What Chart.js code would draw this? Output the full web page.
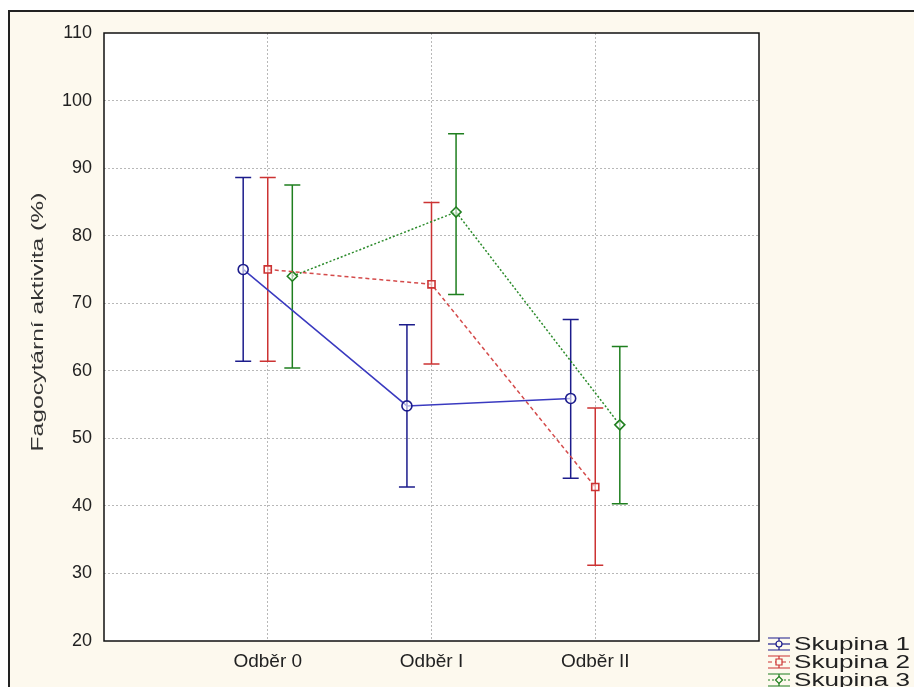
<!DOCTYPE html>
<html>
<head>
<meta charset="utf-8">
<script src="https://cdn.jsdelivr.net/npm/chart.js@4"></script>
<style>
	body { margin: 0; background: #ffffff; }
	#frame {
		position: absolute;
		left: 8px;
		top: 10px;
		width: 904px;
		height: 675px;
		background: #fdf9ee;
		border-top: 2px solid #222;
		border-left: 2px solid #222;
	}
	canvas { display: block; }
</style>
</head>
<body>
<div id="frame"><canvas id="chart" width="904" height="675"></canvas></div>
<script>
// categories and tick labels
const categories = ["Odběr 0", "Odběr I", "Odběr II"];
const groups = ["Skupina 1", "Skupina 2", "Skupina 3"];
const yTicks = [20, 30, 40, 50, 60, 70, 80, 90, 100, 110];
const yTitle = "Fagocytární aktivita (%)";

// means and error limits per group
const mean1 = [75.0, 54.8, 55.9];
const low1 = [61.4, 42.8, 44.1];
const high1 = [88.6, 66.8, 67.6];

const mean2 = [75.0, 72.8, 42.8];
const low2 = [61.4, 61.0, 31.2];
const high2 = [88.6, 84.9, 54.5];

const mean3 = [74.0, 83.5, 52.0];
const low3 = [60.4, 71.3, 40.3];
const high3 = [87.5, 95.1, 63.6];

// horizontal shift of each group around its category
const shift = [-0.15, 0, 0.15];

const colors = ["#1c1c8c", "#cc3333", "#1f7f1f"];
const lineColors = ["#3a3ac0", "#d44a4a", "#2a8a2a"];
const dashes = [[], [4, 3], [2, 2]];
const shapes = ["circle", "rect", "rectRot"];
const fontFamily = "'Liberation Sans', Arial, sans-serif";

function makeSet(idx, means, lows, highs) {
	return {
		label: groups[idx],
		data: means.map((v, i) => ({ x: i + 1 + shift[idx], y: v, lo: lows[i], hi: highs[i] })),
		borderColor: lineColors[idx],
		borderWidth: 1.5,
		borderDash: dashes[idx],
		pointStyle: shapes[idx],
		pointRadius: 5,
		pointBorderColor: colors[idx],
		pointBackgroundColor: "rgba(255,255,255,0.6)",
		pointBorderWidth: 1.6,
		showLine: true,
		fill: false,
		tension: 0,
	};
}

// error bars, drawn through the scales
const errorBars = {
	id: "errorBars",
	beforeDatasetsDraw(chart) {
		const ctx = chart.ctx;
		const xs = chart.scales.x;
		const ys = chart.scales.y;
		chart.data.datasets.forEach((ds, d) => {
			ctx.save();
			ctx.strokeStyle = colors[d];
			ctx.lineWidth = 1.5;
			ds.data.forEach((p) => {
				const x = xs.getPixelForValue(p.x);
				const y1 = ys.getPixelForValue(p.lo);
				const y2 = ys.getPixelForValue(p.hi);
				ctx.beginPath();
				ctx.moveTo(x, y1);
				ctx.lineTo(x, y2);
				ctx.moveTo(x - 8, y1);
				ctx.lineTo(x + 8, y1);
				ctx.moveTo(x - 8, y2);
				ctx.lineTo(x + 8, y2);
				ctx.stroke();
			});
			ctx.restore();
		});
	},
};

// white plot area, black frame around it, and the stretched y title
const plotFrame = {
	id: "plotFrame",
	beforeDraw(chart) {
		const a = chart.chartArea;
		chart.ctx.save();
		chart.ctx.fillStyle = "#ffffff";
		chart.ctx.fillRect(a.left, a.top, a.right - a.left, a.bottom - a.top);
		chart.ctx.restore();
	},
	afterDraw(chart) {
		const a = chart.chartArea;
		const ctx = chart.ctx;
		ctx.save();
		ctx.strokeStyle = "#111";
		ctx.lineWidth = 1.5;
		ctx.strokeRect(a.left, a.top, a.right - a.left, a.bottom - a.top);
		ctx.restore();

		ctx.save();
		ctx.translate(28, 310);
		ctx.rotate(-Math.PI / 2);
		ctx.scale(1.45, 1);
		ctx.font = "17px " + fontFamily;
		ctx.fillStyle = "#333";
		ctx.textAlign = "center";
		ctx.textBaseline = "middle";
		ctx.fillText(yTitle, 0, 0);
		ctx.restore();
	},
};

// legend in the lower right corner, with error bar icons
const sideLegend = {
	id: "sideLegend",
	afterDraw(chart) {
		const ctx = chart.ctx;
		const x0 = 758;
		ctx.save();
		chart.data.datasets.forEach((ds, d) => {
			const y = 632 + d * 18;
			const cx = x0 + 11;
			ctx.strokeStyle = colors[d];
			ctx.lineWidth = 1.2;
			ctx.setLineDash([]);
			ctx.beginPath();
			ctx.moveTo(x0, y - 6);
			ctx.lineTo(x0 + 22, y - 6);
			ctx.moveTo(x0, y + 6);
			ctx.lineTo(x0 + 22, y + 6);
			ctx.moveTo(cx, y - 6);
			ctx.lineTo(cx, y + 6);
			ctx.stroke();
			ctx.setLineDash(dashes[d]);
			ctx.beginPath();
			ctx.moveTo(x0, y);
			ctx.lineTo(x0 + 22, y);
			ctx.stroke();
			ctx.setLineDash([]);
			ctx.fillStyle = "#fdf9ee";
			ctx.beginPath();
			if (d == 0) {
				ctx.arc(cx, y, 3, 0, Math.PI * 2);
			} else if (d == 1) {
				ctx.rect(cx - 3, y - 3, 6, 6);
			} else {
				ctx.moveTo(cx, y - 3.5);
				ctx.lineTo(cx + 3.5, y);
				ctx.lineTo(cx, y + 3.5);
				ctx.lineTo(cx - 3.5, y);
				ctx.closePath();
			}
			ctx.fill();
			ctx.stroke();
			// legend text, a bit wider than normal like in the source
			ctx.save();
			ctx.translate(x0 + 26, y + 1);
			ctx.scale(1.45, 1);
			ctx.font = "18px " + fontFamily;
			ctx.textBaseline = "middle";
			ctx.fillStyle = "#222";
			ctx.fillText(ds.label, 0, 0);
			ctx.restore();
		});
		ctx.restore();
	},
};

const ctx = document.getElementById("chart").getContext("2d");
const chart = new Chart(ctx, {
	type: "scatter",
	data: {
		datasets: [
			makeSet(0, mean1, low1, high1),
			makeSet(1, mean2, low2, high2),
			makeSet(2, mean3, low3, high3),
		],
	},
	options: {
		responsive: false,
		animation: { duration: 0 },
		layout: { padding: { left: 0, right: 155, top: 21, bottom: 0 } },
		scales: {
			x: {
				type: "linear",
				min: 0,
				max: 4,
				afterFit(scale) {
					scale.height = 46;
					scale.paddingLeft = 0;
					scale.paddingRight = 0;
				},
				afterBuildTicks(scale) {
					scale.ticks = [0, 1, 2, 3, 4].map((v) => ({ value: v }));
				},
				ticks: {
					autoSkip: false,
					maxRotation: 0,
					padding: 9,
					color: "#222",
					font: { family: fontFamily, size: 19 },
					callback: (v) => categories[v - 1] || "",
				},
				grid: {
					drawTicks: false,
					color: (c) => (c.tick && c.tick.value > 0 && c.tick.value < 4 ? "#b8b8b8" : "rgba(0,0,0,0)"),
					lineWidth: 1,
				},
				border: { display: false, dash: [2, 2] },
			},
			y: {
				min: 20,
				max: 110,
				afterFit(scale) {
					scale.width = 94;
					scale.paddingTop = 0;
					scale.paddingBottom = 0;
				},
				afterBuildTicks(scale) {
					scale.ticks = yTicks.map((v) => ({ value: v }));
				},
				ticks: {
					padding: 12,
					color: "#222",
					font: { family: fontFamily, size: 18 },
				},
				grid: {
					drawTicks: false,
					color: (c) => (c.tick && c.tick.value > 20 && c.tick.value < 110 ? "#b8b8b8" : "rgba(0,0,0,0)"),
					lineWidth: 1,
				},
				border: { display: false, dash: [2, 2] },
				title: { display: false },
			},
		},
		plugins: {
			legend: { display: false },
			tooltip: { enabled: false },
		},
	},
	plugins: [plotFrame, errorBars, sideLegend],
});
</script>
</body>
</html>
